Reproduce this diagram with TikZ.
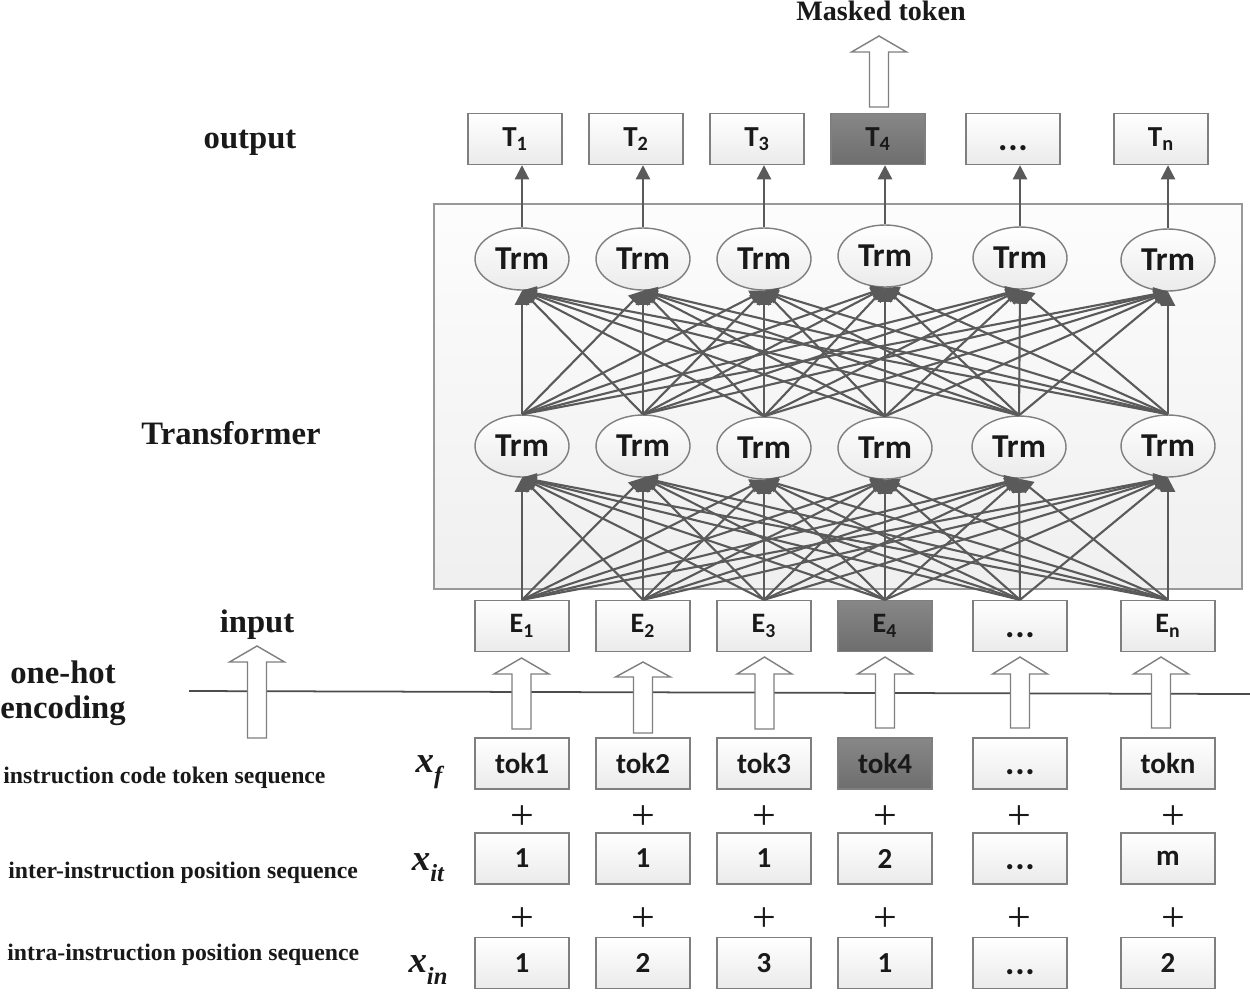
\documentclass[tikz,border=0pt]{standalone}
\usepackage{fontspec}
\setmainfont{Liberation Serif}
\newfontfamily\boxfont{Carlito}
\usetikzlibrary{arrows.meta,shapes.geometric}
\definecolor{edgec}{HTML}{5A5A5A}
\definecolor{framec}{HTML}{7F7F7F}
\newcommand{\hollowarrow}[4]{%
  \draw[hollow] ({#1-9.5},#2) -- ({#1-9.5},#3) -- ({#1-27.5},#3) -- (#1,#4) -- ({#1+27.5},#3) -- ({#1+9.5},#3) -- ({#1+9.5},#2) -- cycle;}
\newcommand{\dotsbox}{{\fontsize{20}{20}\selectfont\vphantom{T}.\kern0.02em.\kern0.02em.}}
\begin{document}
\begin{tikzpicture}[x=0.02cm,y=-0.02cm,
  box/.style={draw=framec, line width=0.8pt, top color=white, bottom color=black!8,
    minimum width=1.88cm, minimum height=1.02cm, inner sep=0pt,
    font=\boxfont\bfseries\fontsize{16.5}{18}\selectfont, text=black!90},
  darkbox/.style={box, top color=black!47, bottom color=black!57},
  trm/.style={ellipse, draw=framec, line width=0.8pt, top color=white, bottom color=black!8,
    minimum width=1.88cm, minimum height=1.24cm, inner sep=0pt,
    font=\boxfont\bfseries\fontsize{19}{20}\selectfont, text=black!90},
  conn/.style={draw=edgec, line width=1.2pt, -{Triangle[length=8pt,width=8pt]}},
  hollow/.style={draw=framec, line width=0.8pt, fill=white},
  lab/.style={font=\bfseries\fontsize{18.6}{20}\selectfont, text=black!90},
  seq/.style={font=\bfseries\fontsize{13.5}{15}\selectfont, anchor=west, text=black!90, inner sep=0pt},
  plus/.style={font=\fontsize{24}{24}\selectfont, text=black!90},
  xlab/.style={font=\bfseries\itshape\fontsize{21}{22}\selectfont, text=black!90}
]
\useasboundingbox (0,0) rectangle (1250,992);

% transformer frame
\draw[draw=black!40, line width=0.8pt, top color=black!1, bottom color=black!6] (434,204) rectangle (1242,589);

% horizontal separator
\draw[draw=black!70, line width=1pt] (189,691) -- (1250,694);

% labels
\node[font=\bfseries\fontsize{16}{18}\selectfont, text=black!90] (mt) at (881,11) {Masked token};
\node[lab] (lout) at (250,143) {output};
\node[lab] (ltr) at (231,433) {Transformer};
\node[lab] (lin) at (257,625) {input};
\node[lab] (l1h) at (63,672) {one-hot};
\node[lab] (lenc) at (63,711) {encoding};
\node[seq] (s1) at (3,778) {instruction code token sequence};
\node[seq] (s2) at (8,873) {inter-instruction position sequence};
\node[seq] (s3) at (7,955) {intra-instruction position sequence};
\node[xlab] (xf) at (429,772) {x\raisebox{-0.3em}{\fontsize{14}{14}\selectfont f}};
\node[xlab] (xit) at (428,868) {x\raisebox{-0.3em}{\fontsize{14}{14}\selectfont it}};
\node[xlab] (xin) at (428,970) {x\raisebox{-0.3em}{\fontsize{14}{14}\selectfont in}};

% output boxes
\node[box] (t1) at (515,139) {T\textsubscript{1}};
\node[box] (t2) at (636,139) {T\textsubscript{2}};
\node[box] (t3) at (757,139) {T\textsubscript{3}};
\node[darkbox] (t4) at (878,139) {T\textsubscript{4}};
\node[box] (t5) at (1013,139) {\dotsbox};
\node[box] (t6) at (1161,139) {T\textsubscript{n}};

% upper Trm
\node[trm] (u1) at (522,259) {Trm};
\node[trm] (u2) at (643,259) {Trm};
\node[trm] (u3) at (764,259) {Trm};
\node[trm] (u4) at (885,256) {Trm};
\node[trm] (u5) at (1020,258) {Trm};
\node[trm] (u6) at (1168,260) {Trm};
% lower Trm
\node[trm] (l1) at (522,446) {Trm};
\node[trm] (l2) at (643,446) {Trm};
\node[trm] (l3) at (764,448) {Trm};
\node[trm] (l4) at (885,448) {Trm};
\node[trm] (l5) at (1019,447) {Trm};
\node[trm] (l6) at (1168,446) {Trm};

% E boxes
\node[box, font=\boxfont\bfseries\fontsize{16}{17}\selectfont] (e1) at (522,626) {E\textsubscript{1}};
\node[box, font=\boxfont\bfseries\fontsize{16}{17}\selectfont] (e2) at (643,626) {E\textsubscript{2}};
\node[box, font=\boxfont\bfseries\fontsize{16}{17}\selectfont] (e3) at (764,626) {E\textsubscript{3}};
\node[darkbox, font=\boxfont\bfseries\fontsize{16}{17}\selectfont] (e4) at (885,626) {E\textsubscript{4}};
\node[box, font=\boxfont\bfseries\fontsize{16}{17}\selectfont] (e5) at (1020,626) {\dotsbox};
\node[box, font=\boxfont\bfseries\fontsize{16}{17}\selectfont] (e6) at (1168,626) {E\textsubscript{n}};

% token rows
\node[box] (a1) at (522,763.5) {tok1};
\node[box] (a2) at (643,763.5) {tok2};
\node[box] (a3) at (764,763.5) {tok3};
\node[darkbox] (a4) at (885,763.5) {tok4};
\node[box] (a5) at (1020,763.5) {\dotsbox};
\node[box] (a6) at (1168,763.5) {tokn};

\node[box] (b1) at (522,858.5) {1};
\node[box] (b2) at (643,858.5) {1};
\node[box] (b3) at (764,858.5) {1};
\node[box] (b4) at (885,858.5) {2};
\node[box] (b5) at (1020,858.5) {\dotsbox};
\node[box] (b6) at (1168,858.5) {m};

\node[box] (c1) at (522,963) {1};
\node[box] (c2) at (643,963) {2};
\node[box] (c3) at (764,963) {3};
\node[box] (c4) at (885,963) {1};
\node[box] (c5) at (1020,963) {\dotsbox};
\node[box] (c6) at (1168,963) {2};

% plus signs
\foreach \px [count=\k] in {522,643,764,885,1019,1173} {
  \node[plus] (pa\k) at (\px,818) {+};
  \node[plus] (pb\k) at (\px,920) {+};
}

% connections
\foreach \i in {1,...,6} {
  \foreach \j in {1,...,6} {
    \draw[conn] (e\i.north) -- (l\j.south);
    \draw[conn] (l\i.north) -- (u\j.south);
  }
  \draw[conn] (u\i.north) -- (u\i.north |- t\i.south);
}

% hollow arrows
\hollowarrow{257}{738}{662}{646}
\hollowarrow{521.5}{729}{674}{658}
\hollowarrow{643}{733}{677}{662}
\hollowarrow{764.5}{729}{674}{657}
\hollowarrow{885}{728}{674}{657}
\hollowarrow{1020}{728}{674}{657}
\hollowarrow{1161}{728}{674}{657}
\hollowarrow{879}{107}{52}{36}
\end{tikzpicture}
\end{document}
